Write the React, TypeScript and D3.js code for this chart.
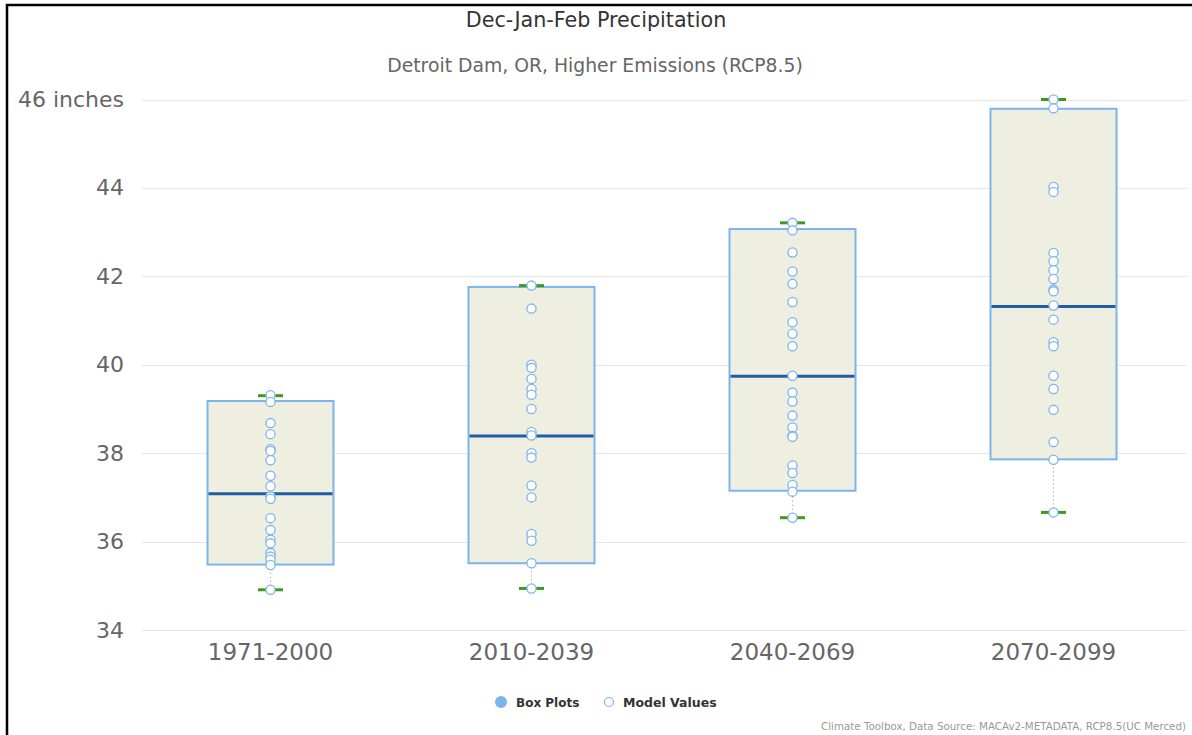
import React from "react";
import * as d3 from "d3";

const periods = ["1971-2000", "2010-2039", "2040-2069", "2070-2099"];
const whiskerLow = [34.91, 34.94, 36.54, 36.66];
const q1 = [35.48, 35.51, 37.15, 37.86];
const median = [37.08, 38.39, 39.74, 41.32];
const q3 = [39.18, 41.76, 43.07, 45.79];
const whiskerHigh = [39.3, 41.79, 43.21, 46.0];

const models1971 = [39.31, 39.16, 38.68, 38.43, 38.09, 38.05, 37.84, 37.49, 37.25, 37.02, 36.97, 36.53, 36.26, 36.04, 35.96, 35.74, 35.66, 35.59, 35.47, 34.91];
const models2010 = [41.79, 41.27, 40.0, 39.93, 39.68, 39.45, 39.32, 39.0, 38.48, 38.4, 38.0, 37.9, 37.27, 37.0, 36.17, 36.02, 35.51, 34.94];
const models2040 = [43.21, 43.04, 42.54, 42.11, 41.83, 41.42, 40.96, 40.7, 40.42, 39.75, 39.37, 39.17, 38.85, 38.58, 38.39, 38.37, 37.72, 37.55, 37.28, 37.13, 36.54];
const models2070 = [46.0, 45.8, 44.02, 43.91, 42.53, 42.34, 42.14, 41.94, 41.7, 41.66, 41.34, 41.02, 40.51, 40.42, 39.75, 39.45, 38.98, 38.25, 37.85, 36.66];
const modelValues = [models1971, models2010, models2040, models2070];

const yTicks = [34, 36, 38, 40, 42, 44, 46];

const FONT = "'DejaVu Sans', sans-serif";

export default function App() {
  const W = 1192;
  const H = 735;
  const y = d3.scaleLinear().domain([34, 46]).range([630, 99.5]);
  const x = d3.scaleBand<string>().domain(periods).range([140, 1184]).padding(0);
  const boxW = 126;
  const whiskW = 25;

  return (
    <div style={{ position: "absolute", left: 0, top: 0 }}>
      <svg width={W} height={H} style={{ display: "block", background: "#fff" }}>
        <rect x={0} y={0} width={W} height={H} fill="#fff" />
        <line x1={6} x2={W} y1={5} y2={5} stroke="#000" strokeWidth={2.5} />
        <line x1={7} x2={7} y1={4} y2={H} stroke="#000" strokeWidth={2.5} />

        <text x={596} y={27} textAnchor="middle" fontFamily={FONT} fontSize={20.7} fill="#333">
          Dec-Jan-Feb Precipitation
        </text>
        <text x={595} y={72} textAnchor="middle" fontFamily={FONT} fontSize={18.8} fill="#666">
          Detroit Dam, OR, Higher Emissions (RCP8.5)
        </text>

        {yTicks.map((t) => (
          <g key={t}>
            <line x1={142} x2={1187} y1={Math.round(y(t)) + 0.5} y2={Math.round(y(t)) + 0.5} stroke="#e6e6e6" strokeWidth={1} />
            <text x={124} y={y(t) + 7.5} textAnchor="end" fontFamily={FONT} fontSize={22} fill="#666">
              {t === 46 ? "46 inches" : String(t)}
            </text>
          </g>
        ))}

        {periods.map((p, i) => {
          const cx = (x(p) as number) + x.bandwidth() / 2;
          return (
            <g key={p}>
              <line x1={cx} x2={cx} y1={y(whiskerLow[i])} y2={y(q1[i])} stroke="#c98a6a" strokeWidth={1} strokeDasharray="1,3" />
              <line x1={cx} x2={cx} y1={y(q3[i])} y2={y(whiskerHigh[i])} stroke="#c98a6a" strokeWidth={1} strokeDasharray="1,3" />
              <rect x={cx - boxW / 2} y={y(q3[i])} width={boxW} height={y(q1[i]) - y(q3[i])} fill="#eeeee1" stroke="#7cb5ec" strokeWidth={2} />
              <line x1={cx - boxW / 2 + 1} x2={cx + boxW / 2 - 1} y1={y(median[i])} y2={y(median[i])} stroke="#1f5ea3" strokeWidth={3} />
              <line x1={cx - whiskW / 2} x2={cx + whiskW / 2} y1={y(whiskerHigh[i])} y2={y(whiskerHigh[i])} stroke="#3f9a1b" strokeWidth={3} />
              <line x1={cx - whiskW / 2} x2={cx + whiskW / 2} y1={y(whiskerLow[i])} y2={y(whiskerLow[i])} stroke="#3f9a1b" strokeWidth={3} />
              {modelValues[i].map((v, j) => (
                <circle key={j} cx={cx} cy={y(v)} r={4.6} fill="#fff" stroke="#7cb5ec" strokeWidth={1.3} />
              ))}
              <text x={cx} y={660} textAnchor="middle" fontFamily={FONT} fontSize={23} fill="#666">
                {p}
              </text>
            </g>
          );
        })}

        <circle cx={501} cy={702} r={6} fill="#7cb5ec" />
        <text x={516} y={707} fontFamily={FONT} fontSize={12} fontWeight="bold" fill="#333">Box Plots</text>
        <circle cx={609} cy={702} r={4.5} fill="#fff" stroke="#7cb5ec" strokeWidth={1.2} />
        <text x={623} y={707} fontFamily={FONT} fontSize={12.5} fontWeight="bold" fill="#333">Model Values</text>

        <text x={1186} y={730} textAnchor="end" fontFamily={FONT} fontSize={10.3} fill="#999">
          Climate Toolbox, Data Source: MACAv2-METADATA, RCP8.5(UC Merced)
        </text>
      </svg>
    </div>
  );
}
